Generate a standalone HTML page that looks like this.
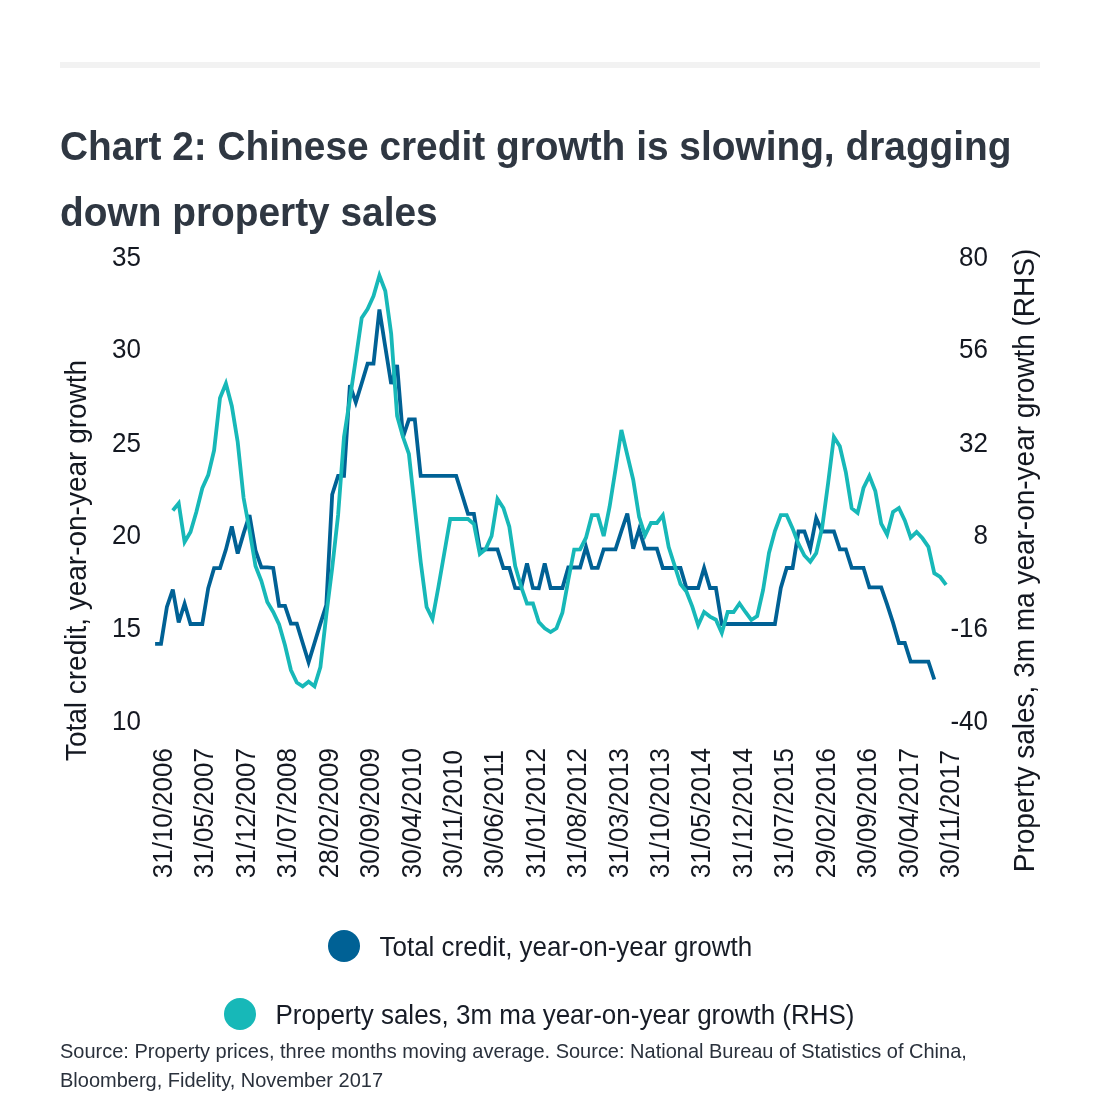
<!DOCTYPE html>
<html><head><meta charset="utf-8"><style>
html,body{margin:0;padding:0;background:#fff;width:1100px;height:1098px;overflow:hidden}
svg{will-change:transform;display:block;font-family:"Liberation Sans",sans-serif}
</style></head><body>
<svg width="1100" height="1098" viewBox="0 0 1100 1098">
<rect x="60" y="62" width="980" height="6" fill="#f2f2f2"/>
<g fill="#2f3742" font-weight="bold" font-size="38.85">
<text transform="translate(60.00,160.00) scale(1,1.03)">Chart 2: Chinese credit growth is slowing, dragging</text>
<text transform="translate(60.00,226.00) scale(1,1.03)">down property sales</text>
</g>
<g fill="#141821" font-size="26" text-anchor="end">
<text transform="translate(141.00,265.90) scale(1,1.05)">35</text>
<text transform="translate(141.00,357.90) scale(1,1.05)">30</text>
<text transform="translate(141.00,451.50) scale(1,1.05)">25</text>
<text transform="translate(141.00,543.50) scale(1,1.05)">20</text>
<text transform="translate(141.00,637.40) scale(1,1.05)">15</text>
<text transform="translate(141.00,729.50) scale(1,1.05)">10</text>
<text transform="translate(988.00,265.90) scale(1,1.05)">80</text>
<text transform="translate(988.00,357.90) scale(1,1.05)">56</text>
<text transform="translate(988.00,451.50) scale(1,1.05)">32</text>
<text transform="translate(988.00,543.50) scale(1,1.05)">8</text>
<text transform="translate(988.00,637.40) scale(1,1.05)">-16</text>
<text transform="translate(988.00,729.50) scale(1,1.05)">-40</text>
</g>
<g fill="#141821" font-size="28" text-anchor="middle">
<text transform="translate(86.00,560.50) rotate(-90) scale(1,1.05)">Total credit, year-on-year growth</text>
<text transform="translate(1034.00,560.50) rotate(-90) scale(1,1.05)">Property sales, 3m ma year-on-year growth (RHS)</text>
</g>
<g fill="#141821" font-size="26">
<text transform="translate(172.00,878.20) rotate(-90) scale(1,1.05)">31/10/2006</text>
<text transform="translate(213.42,878.20) rotate(-90) scale(1,1.05)">31/05/2007</text>
<text transform="translate(254.84,878.20) rotate(-90) scale(1,1.05)">31/12/2007</text>
<text transform="translate(296.26,878.20) rotate(-90) scale(1,1.05)">31/07/2008</text>
<text transform="translate(337.68,878.20) rotate(-90) scale(1,1.05)">28/02/2009</text>
<text transform="translate(379.10,878.20) rotate(-90) scale(1,1.05)">30/09/2009</text>
<text transform="translate(420.52,878.20) rotate(-90) scale(1,1.05)">30/04/2010</text>
<text transform="translate(461.94,878.20) rotate(-90) scale(1,1.05)">30/11/2010</text>
<text transform="translate(503.36,878.20) rotate(-90) scale(1,1.05)">30/06/2011</text>
<text transform="translate(544.78,878.20) rotate(-90) scale(1,1.05)">31/01/2012</text>
<text transform="translate(586.20,878.20) rotate(-90) scale(1,1.05)">31/08/2012</text>
<text transform="translate(627.62,878.20) rotate(-90) scale(1,1.05)">31/03/2013</text>
<text transform="translate(669.04,878.20) rotate(-90) scale(1,1.05)">31/10/2013</text>
<text transform="translate(710.46,878.20) rotate(-90) scale(1,1.05)">31/05/2014</text>
<text transform="translate(751.88,878.20) rotate(-90) scale(1,1.05)">31/12/2014</text>
<text transform="translate(793.30,878.20) rotate(-90) scale(1,1.05)">31/07/2015</text>
<text transform="translate(834.72,878.20) rotate(-90) scale(1,1.05)">29/02/2016</text>
<text transform="translate(876.14,878.20) rotate(-90) scale(1,1.05)">30/09/2016</text>
<text transform="translate(917.56,878.20) rotate(-90) scale(1,1.05)">30/04/2017</text>
<text transform="translate(958.98,878.20) rotate(-90) scale(1,1.05)">30/11/2017</text>
</g>
<path d="M155.1,643.9 L161.0,643.9 L166.9,607.0 L172.8,589.5 L178.7,622.4 L184.6,603.8 L190.5,624.0 L196.4,624.0 L202.3,624.0 L208.2,588.3 L214.1,568.2 L220.0,568.2 L225.9,549.6 L231.8,526.5 L237.7,553.5 L243.6,533.4 L249.5,515.0 L255.5,550.4 L261.4,567.4 L267.3,567.4 L273.2,567.9 L279.1,605.8 L285.0,605.8 L290.9,623.6 L296.8,623.6 L302.7,643.0 L308.6,662.3 L314.5,643.0 L320.4,623.6 L326.3,605.0 L332.2,494.5 L338.1,475.9 L344.0,475.9 L349.9,385.0 L355.8,402.3 L361.7,383.2 L367.6,363.7 L373.5,363.7 L379.4,309.5 L385.3,347.0 L391.2,384.0 L397.1,365.0 L403.0,437.2 L408.9,419.4 L414.8,419.4 L420.7,475.9 L426.6,475.9 L432.5,475.9 L438.4,475.9 L444.3,475.9 L450.2,475.9 L456.2,475.9 L462.1,494.8 L468.0,513.8 L473.9,513.8 L479.8,549.4 L485.7,549.4 L491.6,549.4 L497.5,549.4 L503.4,568.0 L509.3,567.9 L515.2,588.0 L521.1,588.3 L527.0,563.5 L532.9,588.0 L538.8,588.3 L544.7,563.5 L550.6,588.0 L556.5,588.0 L562.4,588.0 L568.3,567.5 L574.2,567.5 L580.1,567.5 L586.0,547.0 L591.9,567.9 L597.8,567.9 L603.7,549.3 L609.6,549.3 L615.5,549.3 L621.4,531.0 L627.3,513.5 L633.2,548.6 L639.1,529.2 L645.0,548.6 L651.0,548.6 L656.9,548.6 L662.8,568.0 L668.7,568.0 L674.6,568.0 L680.5,568.0 L686.4,588.0 L692.3,588.0 L698.2,588.0 L704.1,568.0 L710.0,588.0 L715.9,588.0 L721.8,624.0 L727.7,624.0 L733.6,624.0 L739.5,624.0 L745.4,624.0 L751.3,624.0 L757.2,624.0 L763.1,624.0 L769.0,624.0 L774.9,624.0 L780.8,588.0 L786.7,568.0 L792.6,568.0 L798.5,531.5 L804.4,531.5 L810.3,548.5 L816.2,518.0 L822.1,531.5 L828.0,531.5 L833.9,531.5 L839.8,549.3 L845.8,549.3 L851.7,567.9 L857.6,567.9 L863.5,567.9 L869.4,587.3 L875.3,587.3 L881.2,587.3 L887.1,604.3 L893.0,622.6 L898.9,643.0 L904.8,643.0 L910.7,661.6 L916.6,661.6 L922.5,661.6 L928.4,661.6 L934.3,679.5" fill="none" stroke="#006195" stroke-width="3.8" stroke-linejoin="miter" stroke-miterlimit="4"/>
<path d="M172.8,510.5 L178.7,503.3 L184.6,542.0 L190.5,532.0 L196.4,511.7 L202.3,488.2 L208.2,475.1 L214.1,450.3 L220.0,398.0 L225.9,383.5 L231.8,406.0 L237.7,442.0 L243.6,498.0 L249.5,530.0 L255.5,566.0 L261.4,581.0 L267.3,602.0 L273.2,612.0 L279.1,624.4 L285.0,645.3 L290.9,670.0 L296.8,682.5 L302.7,686.3 L308.6,681.7 L314.5,686.3 L320.4,667.0 L326.3,615.0 L332.2,568.0 L338.1,515.0 L344.0,437.0 L349.9,399.0 L355.8,359.0 L361.7,318.0 L367.6,309.0 L373.5,296.0 L379.4,275.5 L385.3,291.0 L391.2,334.0 L397.1,416.0 L403.0,437.0 L408.9,454.0 L414.8,508.0 L420.7,562.0 L426.6,607.0 L432.5,619.0 L438.4,587.0 L444.3,553.0 L450.2,519.0 L456.2,519.0 L462.1,519.0 L468.0,519.0 L473.9,524.0 L479.8,554.0 L485.7,549.0 L491.6,536.0 L497.5,499.0 L503.4,508.0 L509.3,526.8 L515.2,566.0 L521.1,586.5 L527.0,603.5 L532.9,603.5 L538.8,622.0 L544.7,628.3 L550.6,632.0 L556.5,628.3 L562.4,612.8 L568.3,580.0 L574.2,549.5 L580.1,549.3 L586.0,537.7 L591.9,515.2 L597.8,515.2 L603.7,536.1 L609.6,506.7 L615.5,469.5 L621.4,430.0 L627.3,455.0 L633.2,479.7 L639.1,516.8 L645.0,535.4 L651.0,523.0 L656.9,523.0 L662.8,515.3 L668.7,547.0 L674.6,565.5 L680.5,584.0 L686.4,591.5 L692.3,606.6 L698.2,625.2 L704.1,612.0 L710.0,616.6 L715.9,619.7 L721.8,633.0 L727.7,612.0 L733.6,612.0 L739.5,603.5 L745.4,612.0 L751.3,620.0 L757.2,616.0 L763.1,590.0 L769.0,553.0 L774.9,531.0 L780.8,515.2 L786.7,515.2 L792.6,528.4 L798.5,543.9 L804.4,555.5 L810.3,561.7 L816.2,553.2 L822.1,528.0 L828.0,484.0 L833.9,437.0 L839.8,446.3 L845.8,472.0 L851.7,508.3 L857.6,513.0 L863.5,488.0 L869.4,476.0 L875.3,491.0 L881.2,523.6 L887.1,534.5 L893.0,512.0 L898.9,508.0 L904.8,520.5 L910.7,537.6 L916.6,532.0 L922.5,538.3 L928.4,546.8 L934.3,573.2 L940.2,577.0 L946.1,584.8" fill="none" stroke="#17b8b8" stroke-width="3.8" stroke-linejoin="miter" stroke-miterlimit="4"/>
<circle cx="344" cy="946" r="16" fill="#006195"/>
<circle cx="240" cy="1014" r="16" fill="#17b8b8"/>
<g fill="#171c26" font-size="26">
<text transform="translate(379.50,956.00) scale(1,1.05)">Total credit, year-on-year growth</text>
<text transform="translate(275.50,1024.00) scale(1,1.05)">Property sales, 3m ma year-on-year growth (RHS)</text>
</g>
<g fill="#2a313c" font-size="20">
<text transform="translate(60.00,1058.00) scale(1,1.05)">Source: Property prices, three months moving average. Source: National Bureau of Statistics of China,</text>
<text transform="translate(60.00,1087.00) scale(1,1.05)">Bloomberg, Fidelity, November 2017</text>
</g>
</svg>
</body></html>
